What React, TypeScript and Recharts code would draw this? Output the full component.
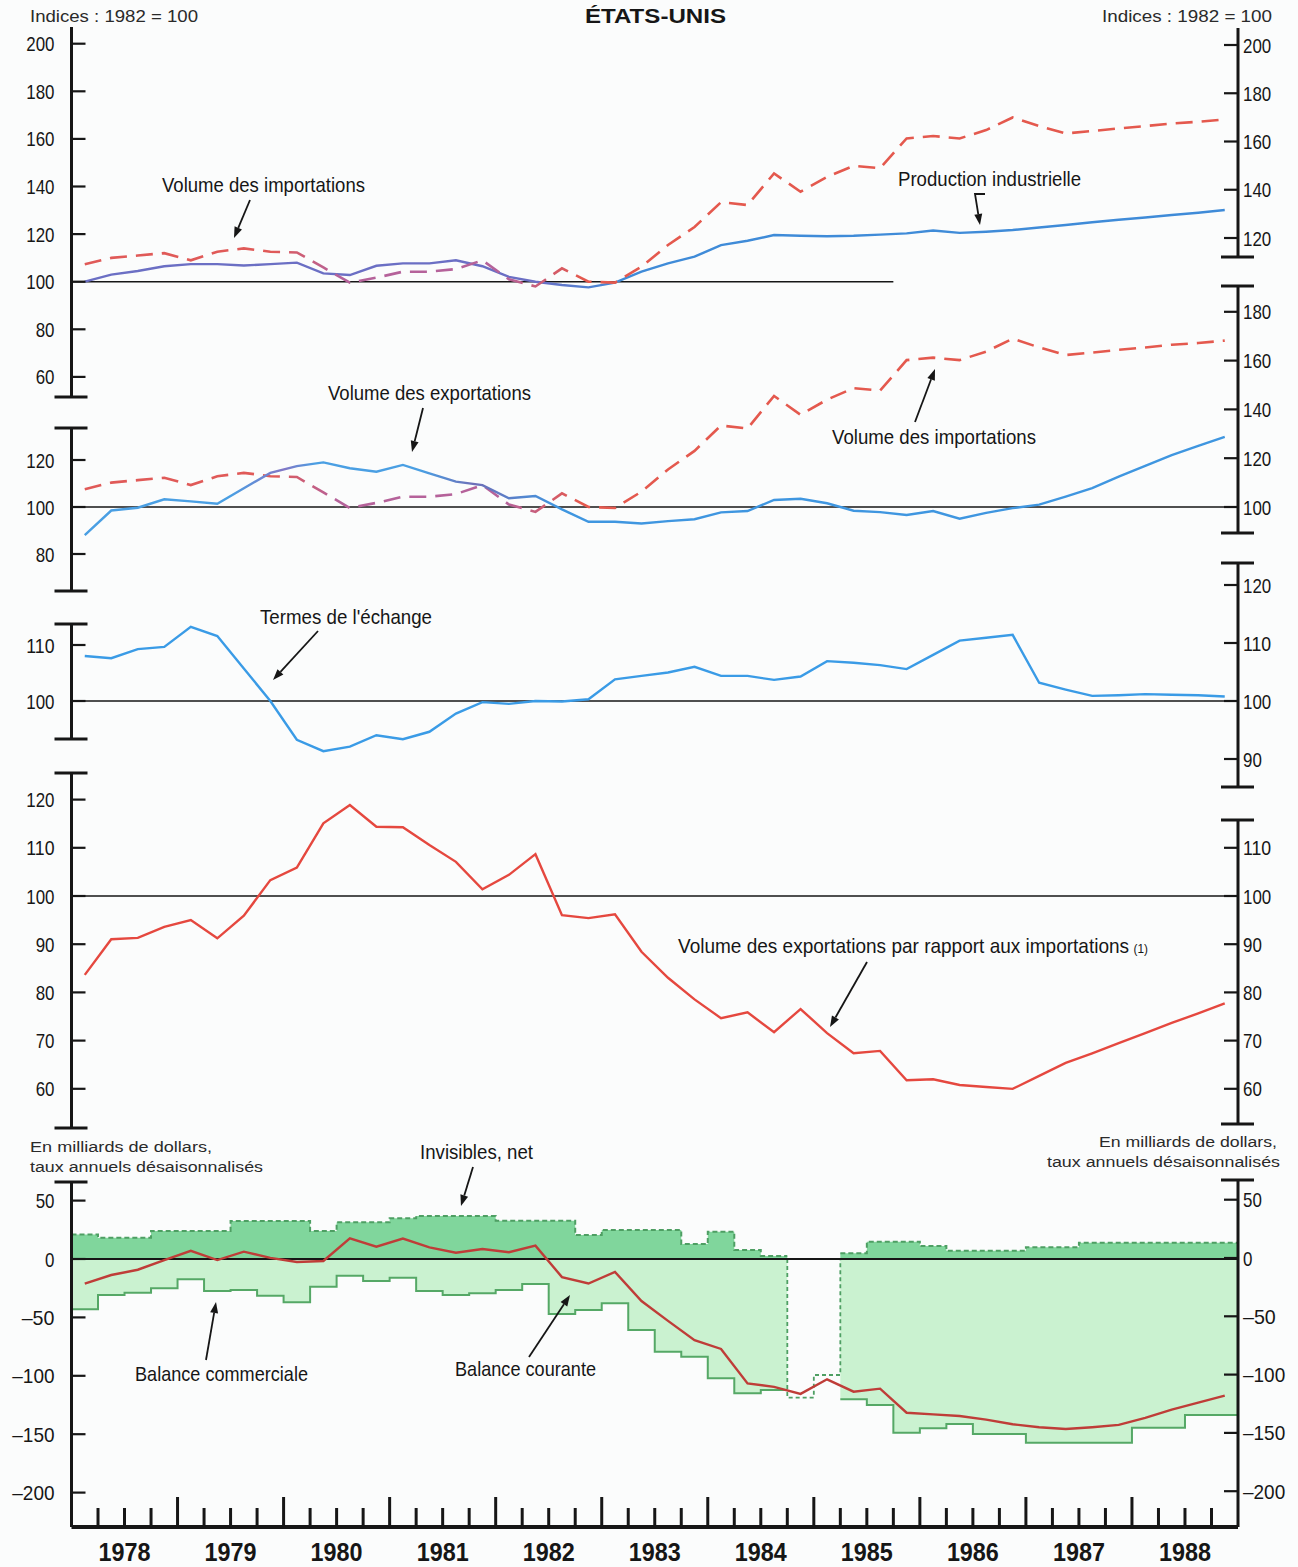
import { ComposedChart, Line, Area, XAxis, YAxis, ReferenceLine, ReferenceArea } from 'recharts'

const W = 1298
const H = 1567
const PLOT_LEFT = 71.5
const PLOT_RIGHT = 1238
const AXIS_W = 60
const PAD = 6
const X_DOMAIN: [number, number] = [1978, 1989]

// Arial-metric face squeezed with textLength gives the condensed look
const SANS = "'Liberation Sans', Arial, Helvetica, sans-serif"
const INK = '#161616'
const PAPER = '#fbfcfc'
const BAND = '#e5f7f7'

const YEARS = [1978, 1979, 1980, 1981, 1982, 1983, 1984, 1985, 1986, 1987, 1988]
const SHADED_YEARS = [1979, 1981, 1983, 1985, 1987]

// quarterly series, 1978 T1 .. 1988 T4 (indices 1982 = 100)
const importVolume = [
  107.3, 110, 111, 112,
  109, 112.6, 114, 112.6,
  112.3, 106, 99.6, 101.7,
  104.2, 104.2, 105.3, 109,
  101, 98, 105.6, 100,
  99.6, 106.3, 115.4, 123,
  133.4, 132.2, 145.5, 137.8,
  144, 148.7, 147.7, 160.2,
  161.2, 160.2, 163.7, 169,
  165.4, 162.3, 163.3, 164.4,
  165.4, 166.5, 167.2, 168.2,
]

const industrialProduction = [
  100, 103, 104.5, 106.5,
  107.4, 107.4, 106.8, 107.4,
  108, 103.5, 102.8, 106.7,
  107.7, 107.7, 109, 106.5,
  102, 100, 98.6, 97.6,
  99.6, 104.2, 107.7, 110.5,
  115.4, 117.2, 119.6, 119.3,
  119.1, 119.3, 119.8, 120.3,
  121.5, 120.5, 121, 121.7,
  122.8, 123.8, 125, 126,
  127, 128, 129, 130.1,
]

const exportVolume = [
  88, 98.5, 99.7, 103.3,
  102.4, 101.4, 108, 114.5,
  117.4, 119, 116.5, 115,
  117.9, 114.3, 110.8, 109.3,
  103.7, 104.7, 99, 93.7,
  93.7, 93, 94, 94.8,
  97.7, 98.3, 103, 103.5,
  101.6, 98.4, 97.8, 96.6,
  98.3, 95, 97.5, 99.5,
  101, 104.4, 108, 112.9,
  117.5, 122.1, 126, 129.8,
]

const termsOfTrade = [
  107.9, 107.5, 109.1, 109.5,
  113, 111.4, 105.7, 100,
  93.2, 91.2, 92, 94,
  93.3, 94.6, 97.8, 99.8,
  99.5, 100, 99.9, 100.3,
  103.8, 104.4, 105, 106,
  104.4, 104.4, 103.7, 104.3,
  107, 106.7, 106.3, 105.6,
  108.1, 110.6, 111.1, 111.6,
  103.2, 102, 100.9, 101,
  101.2, 101.1, 101, 100.8,
]

const exportImportRatio = [
  83.6, 91, 91.3, 93.6,
  95, 91.2, 95.9, 103.3,
  105.9, 115.1, 118.9, 114.4,
  114.3, 110.6, 107.1, 101.4,
  104.4, 108.7, 96, 95.4,
  96.2, 88.4, 83, 78.5,
  74.6, 75.8, 71.7, 76.5,
  71.5, 67.3, 67.8, 61.7,
  61.9, 60.7, 60.3, 59.9,
  62.6, 65.3, 67.3, 69.4,
  71.5, 73.6, 75.6, 77.7,
]

// milliards de dollars, taux annuels désaisonnalisés
const invisiblesNet = [
  21, 18.3, 18.3, 24,
  24, 24, 32.5, 32.5,
  32.5, 24, 31.4, 31.4,
  34.8, 36.8, 36.8, 36.8,
  32.8, 32.8, 32.8, 20.5,
  24.8, 24.8, 24.8, 12.8,
  23.4, 7.7, 2.6, null,
  null, 4.9, 14.8, 14.8,
  11.1, 7.1, 7.1, 7.1,
  10, 10, 14, 14,
  14, 14, 14, 14,
]

const tradeBalance = [
  -43, -30.8, -28.8, -25.1,
  -17.4, -27.4, -26.5, -31.4,
  -37.1, -23.7, -14.3, -18.8,
  -16, -27.4, -30.8, -29.4,
  -26.5, -21.4, -47.1, -43.7,
  -37.9, -60.8, -79.4, -83.6,
  -102.1, -115, -112.2, -118.7,
  -99.3, -120.1, -125, -148.7,
  -145, -141.3, -149.8, -149.8,
  -157.3, -157.3, -157.3, -157.3,
  -144.4, -144.4, -133.6, -133.6,
]

const currentBalance = [
  -21, -13.7, -9.2, -0.9,
  7, -0.9, 6.3, 1,
  -2.6, -1.7, 17.7, 10.5,
  17.5, 10, 5.4, 8.6,
  5.8, 11.4, -15.5, -21,
  -11, -36, -53, -69.5,
  -77, -106.5, -109.5, -115.5,
  -103, -113.6, -111, -131.6,
  -133, -134.4, -137.5, -141.5,
  -144, -145.5, -144, -142,
  -136, -129, -123, -117,
]

// 1984 T4 and 1985 T1: break in the trade series, drawn dashed
const BREAK_QUARTERS = [27, 28]

const QUARTER_TICKS = [...YEARS.flatMap((y) => [y, y + 0.25, y + 0.5, y + 0.75]), 1989]

const quarterStart = (i: number) => 1978 + i / 4
const asLine = (vals: number[]) => vals.map((v, i) => ({ t: quarterStart(i) + 0.125, v }))

// stepAfter needs a closing point at the end of each run of values
const asSteps = (vals: (number | null)[]) => {
  const out: { t: number; v: number | null }[] = []
  vals.forEach((v, i) => {
    const t = quarterStart(i)
    out.push({ t, v })
    if (v != null && vals[i + 1] == null) out.push({ t: t + 0.25, v })
  })
  return out
}

const tradeFill = tradeBalance.map((v, i) => (BREAK_QUARTERS.includes(i) ? null : v))

const breakOutline = (() => {
  const first = BREAK_QUARTERS[0]
  const last = BREAK_QUARTERS[BREAK_QUARTERS.length - 1]
  const pts = [{ t: quarterStart(first), v: 0 }]
  BREAK_QUARTERS.forEach((i) => {
    pts.push({ t: quarterStart(i), v: tradeBalance[i] }, { t: quarterStart(i + 1), v: tradeBalance[i] })
  })
  pts.push({ t: quarterStart(last + 1), v: 0 })
  return pts
})()

type Scale = { top: number; bottom: number; y0: number; v0: number; k: number }

// value v0 sits at page pixel y0, k pixels per unit
const domainOf = (s: Scale): [number, number] => [
  s.v0 - (s.bottom - s.y0) / s.k,
  s.v0 + (s.y0 - s.top) / s.k,
]

const xPix = (t: number) => PLOT_LEFT + ((t - X_DOMAIN[0]) / (X_DOMAIN[1] - X_DOMAIN[0])) * (PLOT_RIGHT - PLOT_LEFT)

function Squeezed({ width, children, ...rest }: any) {
  return (
    <text textLength={width} lengthAdjust="spacingAndGlyphs" fontFamily={SANS} fill={INK} {...rest}>
      {children}
    </text>
  )
}

function SeriesLayer({ scale, children }: { scale: Scale; children: any }) {
  const height = scale.bottom - scale.top + PAD * 2
  return (
    <div style={{ position: 'absolute', left: 0, top: scale.top - PAD, width: W, height }}>
      <ComposedChart
        width={W}
        height={height}
        margin={{ top: PAD, bottom: PAD, left: PLOT_LEFT, right: W - PLOT_RIGHT }}
      >
        <XAxis type="number" dataKey="t" domain={X_DOMAIN} allowDataOverflow hide />
        <YAxis type="number" domain={domainOf(scale)} allowDataOverflow hide />
        {children}
      </ComposedChart>
    </div>
  )
}

function EdgeTick(props: any) {
  const { x, y, payload, side, caps } = props
  const v = payload.value
  if (caps.some((c: number) => Math.abs(c - v) < 1e-6)) {
    return <line x1={x - 17} x2={x + 16} y1={y} y2={y} stroke={INK} strokeWidth={3} />
  }
  const inward = side === 'left' ? 1 : -1
  const digits = String(Math.abs(v))
  const label = v < 0 ? `–${digits}` : digits
  const width = digits.length * 9.4 + (v < 0 ? 14 : 0)
  return (
    <g>
      <line x1={x} x2={x + inward * 14} y1={y} y2={y} stroke={INK} strokeWidth={2.2} />
      <Squeezed
        width={width}
        x={side === 'left' ? x - 17 : x + 5}
        y={y}
        dy="0.36em"
        textAnchor={side === 'left' ? 'end' : 'start'}
        fontSize={21}
      >
        {label}
      </Squeezed>
    </g>
  )
}

function AxisLayer({ scale, side, ticks, capTop, capBottom }: {
  scale: Scale
  side: 'left' | 'right'
  ticks: number[]
  capTop?: boolean
  capBottom?: boolean
}) {
  const height = scale.bottom - scale.top + PAD * 2
  const domain = domainOf(scale)
  const caps = [...(capBottom ? [domain[0]] : []), ...(capTop ? [domain[1]] : [])]
  return (
    <div style={{ position: 'absolute', left: 0, top: scale.top - PAD, width: W, height }}>
      <ComposedChart
        width={W}
        height={height}
        margin={{
          top: PAD,
          bottom: PAD,
          left: side === 'left' ? PLOT_LEFT - AXIS_W : PLOT_LEFT,
          right: side === 'right' ? W - PLOT_RIGHT - AXIS_W : W - PLOT_RIGHT,
        }}
      >
        <XAxis type="number" dataKey="t" domain={X_DOMAIN} allowDataOverflow hide />
        <YAxis
          type="number"
          orientation={side}
          width={AXIS_W}
          domain={domain}
          allowDataOverflow
          ticks={[...caps, ...ticks]}
          interval={0}
          tickLine={false}
          tickSize={0}
          tickMargin={0}
          axisLine={{ stroke: INK, strokeWidth: 3 }}
          tick={(p: any) => <EdgeTick {...p} side={side} caps={caps} />}
        />
      </ComposedChart>
    </div>
  )
}

function QuarterTick(props: any) {
  const { x, y, payload } = props
  const v = payload.value
  if (v <= X_DOMAIN[0] || v >= X_DOMAIN[1]) return <g />
  const yearMark = Math.abs(v - Math.round(v)) < 1e-6
  const mid = Math.abs(v - Math.floor(v) - 0.5) < 1e-6
  return (
    <g>
      <line x1={x} x2={x} y1={y} y2={y - (yearMark ? 30 : 19)} stroke={INK} strokeWidth={3} />
      {mid && (
        <Squeezed width={52} x={x} y={y + 34} textAnchor="middle" fontWeight="bold" fontSize={25}>
          {Math.floor(v)}
        </Squeezed>
      )}
    </g>
  )
}

function Backdrop() {
  return (
    <div style={{ position: 'absolute', left: 0, top: 0, width: W, height: H }}>
      <ComposedChart
        width={W}
        height={H}
        data={QUARTER_TICKS.map((t) => ({ t }))}
        margin={{ top: 28, right: W - PLOT_RIGHT, bottom: 0, left: PLOT_LEFT }}
      >
        <XAxis
          type="number"
          dataKey="t"
          domain={X_DOMAIN}
          allowDataOverflow
          ticks={QUARTER_TICKS}
          interval={0}
          height={40}
          tickLine={false}
          tickSize={0}
          tickMargin={0}
          axisLine={{ stroke: INK, strokeWidth: 4 }}
          tick={(p: any) => <QuarterTick {...p} />}
        />
        <YAxis type="number" domain={[0, 1]} hide />
        {SHADED_YEARS.map((y) => (
          <ReferenceArea key={y} x1={y} x2={y + 1} fill={BAND} fillOpacity={1} stroke="none" />
        ))}
      </ComposedChart>
    </div>
  )
}

function Gradient({ id, stops }: { id: string; stops: [number, string][] }) {
  return (
    <defs>
      <linearGradient id={id} gradientUnits="userSpaceOnUse" x1={PLOT_LEFT} x2={PLOT_RIGHT} y1={0} y2={0}>
        {stops.map(([t, c]) => (
          <stop key={t} offset={(xPix(t) - PLOT_LEFT) / (PLOT_RIGHT - PLOT_LEFT)} stopColor={c} />
        ))}
      </linearGradient>
    </defs>
  )
}

const IMPORT_STOPS: [number, string][] = [
  [1978, '#e05a58'], [1979.9, '#e05a58'], [1980.5, '#b5629a'], [1982.1, '#b5629a'], [1982.8, '#e4594e'], [1989, '#e4594e'],
]
const PROD_STOPS: [number, string][] = [
  [1978, '#6b6fc4'], [1982.4, '#6b6fc4'], [1983.2, '#3f8bd8'], [1989, '#3f8bd8'],
]
const EXPORT_STOPS: [number, string][] = [
  [1978, '#4a9fe3'], [1979.5, '#4a9fe3'], [1980, '#8277c6'], [1980.3, '#4a9fe3'], [1981.3, '#4a9fe3'], [1981.8, '#6e6fb8'], [1982.6, '#3f96e0'], [1989, '#3f96e0'],
]

const S1: Scale = { top: 27, bottom: 397, y0: 281.7, v0: 100, k: 2.38 }
const S2_IMPORTS: Scale = { top: 286, bottom: 600, y0: 507, v0: 100, k: 2.44 }
const S2_EXPORTS: Scale = { top: 286, bottom: 600, y0: 507, v0: 100, k: 2.35 }
const S3: Scale = { top: 560, bottom: 790, y0: 701, v0: 100, k: 5.7 }
const S4: Scale = { top: 770, bottom: 1130, y0: 896, v0: 100, k: 4.81 }
const S5: Scale = { top: 1180, bottom: 1527, y0: 1259, v0: 0, k: 1.168 }

const NOTES = [
  { text: 'Volume des importations', x: 162, y: 191.5, w: 203 },
  { text: 'Production industrielle', x: 898, y: 185.5, w: 183 },
  { text: 'Volume des exportations', x: 328, y: 399.5, w: 203 },
  { text: 'Volume des importations', x: 832, y: 443.5, w: 204 },
  { text: "Termes de l'échange", x: 260, y: 623.5, w: 172 },
  { text: 'Invisibles, net', x: 420, y: 1158.5, w: 113 },
  { text: 'Balance commerciale', x: 135, y: 1380.5, w: 173 },
  { text: 'Balance courante', x: 455, y: 1375.5, w: 141 },
]

const ARROWS: [number, number][][] = [
  [[250, 200], [234, 238]],
  [[985, 194], [975, 194], [980, 225]],
  [[423, 408], [412, 452]],
  [[915, 422], [935, 369]],
  [[318, 631], [273, 680]],
  [[867, 962], [830, 1027]],
  [[473, 1167], [461, 1206]],
  [[206, 1360], [216, 1302]],
  [[529, 1357], [570, 1295]],
]

function Arrow({ pts }: { pts: [number, number][] }) {
  const [x1, y1] = pts[pts.length - 2]
  const [x2, y2] = pts[pts.length - 1]
  const a = Math.atan2(y2 - y1, x2 - x1)
  const len = 11
  const half = 4
  const bx = x2 - len * Math.cos(a)
  const by = y2 - len * Math.sin(a)
  const shaft = [...pts.slice(0, -1), [bx, by]].map((p) => p.join(',')).join(' ')
  const head = [
    [x2, y2],
    [bx - half * Math.sin(a), by + half * Math.cos(a)],
    [bx + half * Math.sin(a), by - half * Math.cos(a)],
  ].map((p) => p.join(',')).join(' ')
  return (
    <g>
      <polyline points={shaft} fill="none" stroke={INK} strokeWidth={1.8} />
      <polygon points={head} fill={INK} />
    </g>
  )
}

function Notes() {
  const grey = '#2a2a2a'
  return (
    <svg width={W} height={H} style={{ position: 'absolute', left: 0, top: 0, pointerEvents: 'none' }}>
      <Squeezed width={168} x={30} y={21.5} fontSize={16} fill={grey}>Indices : 1982 = 100</Squeezed>
      <Squeezed width={170} x={1102} y={21.5} fontSize={16} fill={grey}>Indices : 1982 = 100</Squeezed>
      <Squeezed width={141} x={585} y={23} fontWeight="bold" fontSize={21}>ÉTATS-UNIS</Squeezed>

      <Squeezed width={182} x={30} y={1151.5} fontSize={15.5} fill={grey}>En milliards de dollars,</Squeezed>
      <Squeezed width={233} x={30} y={1171.5} fontSize={15.5} fill={grey}>taux annuels désaisonnalisés</Squeezed>
      <Squeezed width={178} x={1099} y={1147} fontSize={15.5} fill={grey}>En milliards de dollars,</Squeezed>
      <Squeezed width={233} x={1047} y={1167} fontSize={15.5} fill={grey}>taux annuels désaisonnalisés</Squeezed>

      {NOTES.map((n, i) => (
        <Squeezed key={i} width={n.w} x={n.x} y={n.y} fontSize={21}>
          {n.text}
        </Squeezed>
      ))}
      <Squeezed width={470} x={678} y={952.5} fontSize={21}>
        Volume des exportations par rapport aux importations
        <tspan fontSize={13} dx={5}>(1)</tspan>
      </Squeezed>

      {ARROWS.map((pts, i) => (
        <Arrow key={i} pts={pts} />
      ))}
    </svg>
  )
}

export default function App() {
  return (
    <div style={{ position: 'absolute', left: 0, top: 0, width: W, height: H, background: PAPER, overflow: 'hidden' }}>
      <Backdrop />

      {/* indices: imports and industrial production */}
      <SeriesLayer scale={S1}>
        <Gradient id="grad-imports-1" stops={IMPORT_STOPS} />
        <Gradient id="grad-prod" stops={PROD_STOPS} />
        <ReferenceLine segment={[{ x: 1978, y: 100 }, { x: 1985.75, y: 100 }]} stroke={INK} strokeWidth={1.6} />
        <Line data={asLine(industrialProduction)} dataKey="v" stroke="url(#grad-prod)" strokeWidth={2.4} dot={false} activeDot={false} isAnimationActive={false} />
        <Line data={asLine(importVolume)} dataKey="v" stroke="url(#grad-imports-1)" strokeWidth={2.6} strokeDasharray="17 9" dot={false} activeDot={false} isAnimationActive={false} />
      </SeriesLayer>

      {/* indices: imports and exports */}
      <SeriesLayer scale={S2_IMPORTS}>
        <Gradient id="grad-imports-2" stops={IMPORT_STOPS} />
        <ReferenceLine y={100} stroke={INK} strokeWidth={1.6} />
        <Line data={asLine(importVolume)} dataKey="v" stroke="url(#grad-imports-2)" strokeWidth={2.6} strokeDasharray="17 9" dot={false} activeDot={false} isAnimationActive={false} />
      </SeriesLayer>
      <SeriesLayer scale={S2_EXPORTS}>
        <Gradient id="grad-exports" stops={EXPORT_STOPS} />
        <Line data={asLine(exportVolume)} dataKey="v" stroke="url(#grad-exports)" strokeWidth={2.4} dot={false} activeDot={false} isAnimationActive={false} />
      </SeriesLayer>

      {/* terms of trade */}
      <SeriesLayer scale={S3}>
        <ReferenceLine y={100} stroke={INK} strokeWidth={1.6} />
        <Line data={asLine(termsOfTrade)} dataKey="v" stroke="#3a9be6" strokeWidth={2.4} dot={false} activeDot={false} isAnimationActive={false} />
      </SeriesLayer>

      {/* export volume relative to import volume */}
      <SeriesLayer scale={S4}>
        <ReferenceLine y={100} stroke={INK} strokeWidth={1.6} />
        <Line data={asLine(exportImportRatio)} dataKey="v" stroke="#e5483f" strokeWidth={2.4} dot={false} activeDot={false} isAnimationActive={false} />
      </SeriesLayer>

      {/* balances, $ billions */}
      <SeriesLayer scale={S5}>
        <Area data={asSteps(tradeFill)} dataKey="v" type="stepAfter" baseValue={0} fill="#caf2d0" fillOpacity={1} stroke="#55a866" strokeWidth={2} dot={false} activeDot={false} isAnimationActive={false} />
        <Area data={asSteps(invisiblesNet)} dataKey="v" type="stepAfter" baseValue={0} fill="#80d69c" fillOpacity={1} stroke="#4e9f63" strokeWidth={2} strokeDasharray="5 3" dot={false} activeDot={false} isAnimationActive={false} />
        <Line data={breakOutline} dataKey="v" type="linear" stroke="#4e9f63" strokeWidth={1.8} strokeDasharray="4 3" dot={false} activeDot={false} isAnimationActive={false} />
        <ReferenceLine y={0} stroke={INK} strokeWidth={1.8} />
        <Line data={asLine(currentBalance)} dataKey="v" stroke="#bf3d38" strokeWidth={2.4} dot={false} activeDot={false} isAnimationActive={false} />
      </SeriesLayer>

      <AxisLayer scale={S1} side="left" ticks={[60, 80, 100, 120, 140, 160, 180, 200]} capBottom />
      <AxisLayer scale={{ top: 28, bottom: 257, y0: 45, v0: 200, k: 2.4125 }} side="right" ticks={[120, 140, 160, 180, 200]} capBottom />
      <AxisLayer scale={{ top: 428, bottom: 591, y0: 507, v0: 100, k: 2.35 }} side="left" ticks={[80, 100, 120]} capTop capBottom />
      <AxisLayer scale={{ top: 286, bottom: 533, y0: 507, v0: 100, k: 2.44 }} side="right" ticks={[100, 120, 140, 160, 180]} capTop capBottom />
      <AxisLayer scale={{ top: 624, bottom: 739, y0: 701, v0: 100, k: 5.6 }} side="left" ticks={[100, 110]} capTop capBottom />
      <AxisLayer scale={{ top: 563, bottom: 787, y0: 701, v0: 100, k: 5.8 }} side="right" ticks={[90, 100, 110, 120]} capTop capBottom />
      <AxisLayer scale={{ top: 773, bottom: 1128, y0: 896, v0: 100, k: 4.82 }} side="left" ticks={[60, 70, 80, 90, 100, 110, 120]} capTop capBottom />
      <AxisLayer scale={{ top: 820, bottom: 1124, y0: 896, v0: 100, k: 4.82 }} side="right" ticks={[60, 70, 80, 90, 100, 110]} capTop capBottom />
      <AxisLayer scale={{ top: 1182, bottom: 1527, y0: 1259, v0: 0, k: 1.168 }} side="left" ticks={[-200, -150, -100, -50, 0, 50]} capTop />
      <AxisLayer scale={{ top: 1180, bottom: 1527, y0: 1258, v0: 0, k: 1.166 }} side="right" ticks={[-200, -150, -100, -50, 0, 50]} capTop />

      <Notes />
    </div>
  )
}
